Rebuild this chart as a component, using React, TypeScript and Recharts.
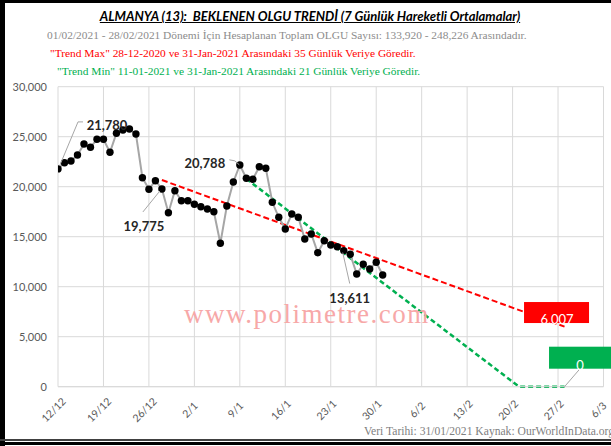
import { CartesianGrid, ComposedChart, Line, XAxis, YAxis } from 'recharts'

// day index 0 = 12/12/2020
const tickLabels = ['12/12', '19/12', '26/12', '2/1', '9/1', '16/1', '23/1', '30/1', '6/2', '13/2', '20/2', '27/2', '6/3']
const yTicks = [0, 5000, 10000, 15000, 20000, 25000, 30000]

// 7-day moving average, 12/12/2020 .. 31/01/2021
const dailyCases = [
  21780, 22400, 22570, 23170, 24270, 23940, 24740, 24740, 23440, 25340,
  25670, 25770, 25270, 20900, 19740, 20600, 19775, 17400, 19600, 18600,
  18600, 18240, 18000, 17770, 17500, 14340, 18070, 20470, 22170, 20840,
  20740, 22000, 21840, 18440, 16940, 15770, 17270, 16940, 14770, 15270,
  13400, 14600, 14170, 14000, 13611, 13240, 11270, 12240, 11770, 12440,
  11170,
]

// trend lines (start / end points)
const trendMaxDays = [16, 78]
const trendMaxValues = [20670, 6007]
const trendMinDays = [29, 71, 78]
const trendMinValues = [20788, 0, 0]

const mainData = dailyCases.map((value, day) => ({ day, value }))
const maxData = trendMaxDays.map((day, i) => ({ day, value: trendMaxValues[i] }))
const minData = trendMinDays.map((day, i) => ({ day, value: trendMinValues[i] }))

const fmt = (v: number) => v.toLocaleString('en-US')
const CAL = 'Lato, "Open Sans", sans-serif'
const SERIF = '"Liberation Serif", "DejaVu Serif", serif'

// callout placement for the moving-average series
const mainCallouts: Record<number, { dx: number; dy: number; path: string }> = {
  0: { dx: 49, dy: -44, path: 'M2 -4 L20 -47 L25 -47' },
  16: { dx: -18, dy: 37, path: 'M-19 23 L-2 2' },
  44: { dx: 6, dy: 47, path: 'M6 33 L-1 2' },
}

function MainLabel(props: any) {
  const { x, y, index, value } = props
  const c = mainCallouts[index]
  if (!c) return null
  return (
    <g>
      <path d={c.path} transform={`translate(${x},${y})`} stroke="#A6A6A6" fill="none" strokeWidth={1} />
      <text x={x + c.dx} y={y + c.dy} textAnchor="middle" dominantBaseline="central" fontFamily={CAL} fontWeight={700} fontSize={13} fill="#262626">
        {fmt(value)}
      </text>
    </g>
  )
}

function MinLabel(props: any) {
  const { x, y, index, value } = props
  if (index === 0) {
    return (
      <g>
        <path d="M-17 -19 L-11.5 -18 L-7 -14" transform={`translate(${x},${y})`} stroke="#A6A6A6" fill="none" strokeWidth={1} />
        <text x={x - 41.5} y={y - 16} textAnchor="middle" dominantBaseline="central" fontFamily={CAL} fontWeight={700} fontSize={13} fill="#262626">
          {fmt(value)}
        </text>
      </g>
    )
  }
  if (index === minData.length - 1) {
    return (
      <g>
        <path d="M15.5 -18 L0 0" transform={`translate(${x},${y})`} stroke="#A6A6A6" fill="none" strokeWidth={1} />
        <rect x={x - 15.5} y={y - 40} width={62} height={22} fill="#00B050" />
        <text x={x + 15.5} y={y - 22} textAnchor="middle" dominantBaseline="central" fontFamily={CAL} fontSize={13} fill="#fff">
          {fmt(value)}
        </text>
      </g>
    )
  }
  return null
}

function MaxLabel(props: any) {
  const { x, y, index, value } = props
  if (index !== maxData.length - 1) return null
  return (
    <g>
      <rect x={x - 40.5} y={y - 24.6} width={65} height={21} fill="#FF0000" />
      <text x={x - 7.5} y={y - 8} textAnchor="middle" dominantBaseline="central" fontFamily={CAL} fontSize={13} fill="#fff">
        {fmt(value)}
      </text>
    </g>
  )
}

function XTick(props: any) {
  const { x, y, payload } = props
  const label = tickLabels[Math.round(payload.value / 7)]
  const cx = x - 4.5
  const cy = y + 23
  return (
    <text x={cx} y={cy} textAnchor="middle" dominantBaseline="central" transform={`rotate(-45 ${cx} ${cy})`} fontFamily={CAL} fontSize={10.5} fill="#595959">
      {label}
    </text>
  )
}

export default function App() {
  return (
    <div style={{ position: 'relative', width: 611, height: 446, background: '#fff', overflow: 'hidden' }}>
      <style>{'body{margin:0}'}</style>
      {/* frame */}
      <div style={{ position: 'absolute', left: 0, top: 0, width: 611, height: 3, background: '#000' }} />
      <div style={{ position: 'absolute', left: 0, top: 0, width: 5, height: 446, background: '#000' }} />
      <div style={{ position: 'absolute', left: 0, top: 439, width: 611, height: 1.5, background: '#404040' }} />
      <div style={{ position: 'absolute', left: 0, top: 442, width: 611, height: 3, background: '#000' }} />

      <div style={{ position: 'absolute', left: 0, width: 620, top: 8, textAlign: 'center', fontFamily: CAL, fontSize: 13, fontWeight: 700, fontStyle: 'italic', textDecoration: 'underline', lineHeight: '16px', whiteSpace: 'nowrap', color: '#000' }}>
        ALMANYA (13):&nbsp; BEKLENEN OLGU TRENDİ (7 Günlük Hareketli Ortalamalar)
      </div>
      <div style={{ position: 'absolute', left: 47, top: 28, fontFamily: SERIF, fontSize: 11.4, lineHeight: '14px', whiteSpace: 'nowrap', color: '#8C8C8C' }}>
        01/02/2021 - 28/02/2021 Dönemi İçin Hesaplanan Toplam OLGU Sayısı: 133,920 - 248,226 Arasındadır.
      </div>
      <div style={{ position: 'absolute', left: 50, top: 46, fontFamily: SERIF, fontSize: 11.4, lineHeight: '14px', whiteSpace: 'nowrap', color: '#FF0000' }}>
        "Trend Max" 28-12-2020 ve 31-Jan-2021 Arasındaki 35 Günlük Veriye Göredir.
      </div>
      <div style={{ position: 'absolute', left: 57, top: 64, fontFamily: SERIF, fontSize: 11.4, lineHeight: '14px', whiteSpace: 'nowrap', color: '#00B050' }}>
        "Trend Min" 11-01-2021 ve 31-Jan-2021 Arasındaki 21 Günlük Veriye Göredir.
      </div>

      <div style={{ position: 'absolute', left: 0, top: 0 }}>
        <ComposedChart width={611} height={446} margin={{ top: 86.7, right: 7.5, left: 8, bottom: 9.3 }}>
          <CartesianGrid stroke="#D9D9D9" strokeWidth={1} />
          <XAxis
            type="number"
            dataKey="day"
            domain={[0, 84]}
            ticks={tickLabels.map((_, i) => i * 7)}
            allowDataOverflow
            height={50}
            tickSize={0}
            tickMargin={0}
            tickLine={false}
            axisLine={{ stroke: '#D9D9D9' }}
            tick={<XTick />}
          />
          <YAxis
            type="number"
            domain={[0, 30000]}
            ticks={yTicks}
            width={50}
            tickSize={0}
            tickMargin={11}
            axisLine={false}
            tickLine={false}
            tickFormatter={fmt}
            tick={{ fill: '#595959', fontSize: 11, fontFamily: CAL }}
          />
          <Line
            data={maxData}
            dataKey="value"
            stroke="#FF0000"
            strokeWidth={2}
            strokeDasharray="6 3"
            dot={false}
            isAnimationActive={false}
            label={<MaxLabel />}
          />
          <Line
            data={minData}
            dataKey="value"
            stroke="#00B050"
            strokeWidth={2.5}
            strokeDasharray="5 3"
            dot={false}
            isAnimationActive={false}
            label={<MinLabel />}
          />
          <Line
            data={mainData}
            dataKey="value"
            stroke="#A6A6A6"
            strokeWidth={2}
            dot={{ r: 3.7, fill: '#000', stroke: '#000', strokeWidth: 0 }}
            isAnimationActive={false}
            label={<MainLabel />}
          />
        </ComposedChart>
      </div>

      <div style={{ position: 'absolute', left: 184, top: 301, fontFamily: SERIF, fontSize: 27, letterSpacing: 1.5, lineHeight: '27px', whiteSpace: 'nowrap', color: '#F7A8A8', pointerEvents: 'none' }}>
        www.polimetre.com
      </div>
      <div style={{ position: 'absolute', left: 364, top: 425, fontFamily: SERIF, fontSize: 11.6, lineHeight: '14px', whiteSpace: 'nowrap', color: '#7F7F7F' }}>
        Veri Tarihi: 31/01/2021 Kaynak: OurWorldInData.org
      </div>
    </div>
  )
}
